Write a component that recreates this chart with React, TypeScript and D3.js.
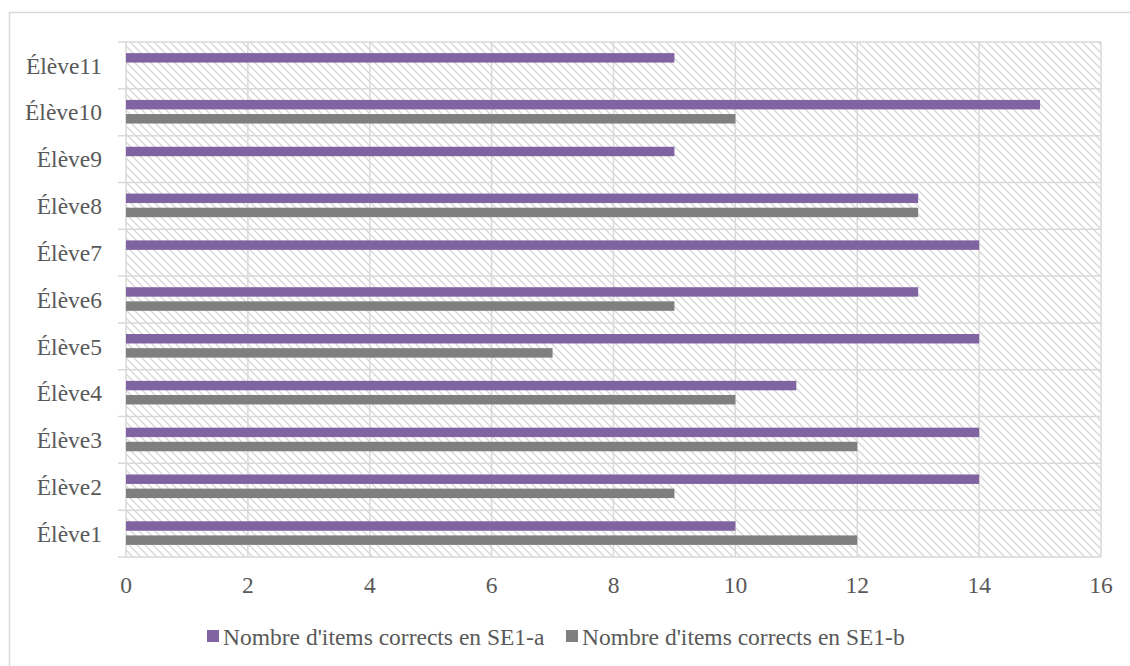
import React from "react";
import * as d3 from "d3";

const categories = ["Élève1", "Élève2", "Élève3", "Élève4", "Élève5", "Élève6", "Élève7", "Élève8", "Élève9", "Élève10", "Élève11"];
const seriesA = [10, 14, 14, 11, 14, 13, 14, 13, 9, 15, 9];
const seriesB: (number | null)[] = [12, 9, 12, 10, 7, 9, null, 13, null, 10, null];
const seriesNames = ["Nombre d'items corrects en SE1-a", "Nombre d'items corrects en SE1-b"];
const seriesColors = ["#8064A2", "#7F7F7F"];
const xTicks = [0, 2, 4, 6, 8, 10, 12, 14, 16];

const W = 1130;
const H = 666;
const FONT = "Liberation Serif";
const FS = 23.5;
const TEXT = "#595959";
const GRID = "#D9D9D9";
const ts = { fontFamily: FONT, fontSize: FS, fill: TEXT };

export default function App() {
  const left = 126, right = 1101, top = 42, bottom = 557;
  const x = d3.scaleLinear().domain([0, 16]).range([left, right]);
  const y = d3.scaleBand<string>().domain([...categories].reverse()).range([top, bottom]).paddingInner(0).paddingOuter(0);
  const inner = d3.scaleBand<string>().domain(["a", "b"]).range([0, 23.6]).paddingInner(0.33);
  const bandOff = (y.bandwidth() - 23.6) / 2 - 0.5;
  const boundaries = [...categories.map((c) => y(c) as number), bottom];

  const legendItems = [
    { name: seriesNames[0], color: seriesColors[0], sx: 207, tx: 223 },
    { name: seriesNames[1], color: seriesColors[1], sx: 566, tx: 582 },
  ];

  return (
    <svg width={W} height={H} style={{ position: "absolute", left: 0, top: 0, background: "#fff" }}>
      <defs>
        <pattern id="hatch" width="8" height="8" patternUnits="userSpaceOnUse">
          <path d="M-2,-2 L10,10 M-2,6 L2,10 M6,-2 L10,2" stroke="#D6D6D6" strokeWidth="1.3" />
        </pattern>
      </defs>
      <rect x={0} y={0} width={W} height={H} fill="#fff" />
      <rect x={9.5} y={12.5} width={1200} height={800} fill="none" stroke={GRID} strokeWidth={1.5} />
      <rect x={left} y={top} width={right - left} height={bottom - top} fill="url(#hatch)" />
      {xTicks.map((t) => (
        <line key={"v" + t} x1={x(t)} x2={x(t)} y1={top} y2={bottom} stroke={GRID} strokeWidth={1.5} />
      ))}
      {boundaries.map((b, i) => (
        <line key={"h" + i} x1={left - 8} x2={right} y1={b} y2={b} stroke={GRID} strokeWidth={1.5} />
      ))}
      {categories.map((c, i) => {
        const y0 = (y(c) as number) + bandOff;
        const b = seriesB[i];
        return (
          <g key={c}>
            <rect x={x(0)} y={y0 + (inner("a") as number)} width={x(seriesA[i]) - x(0)} height={inner.bandwidth()} fill={seriesColors[0]} />
            {b != null && (
              <rect x={x(0)} y={y0 + (inner("b") as number)} width={x(b) - x(0)} height={inner.bandwidth()} fill={seriesColors[1]} />
            )}
            <text x={102} y={(y(c) as number) + y.bandwidth() / 2} dy="0.35em" textAnchor="end" style={ts}>
              {c}
            </text>
          </g>
        );
      })}
      {xTicks.map((t) => (
        <text key={"t" + t} x={x(t)} y={593} textAnchor="middle" style={ts}>
          {t}
        </text>
      ))}
      {legendItems.map((l) => (
        <g key={l.name}>
          <rect x={l.sx} y={630} width={12} height={12} fill={l.color} />
          <text x={l.tx} y={645} style={ts}>
            {l.name}
          </text>
        </g>
      ))}
    </svg>
  );
}
